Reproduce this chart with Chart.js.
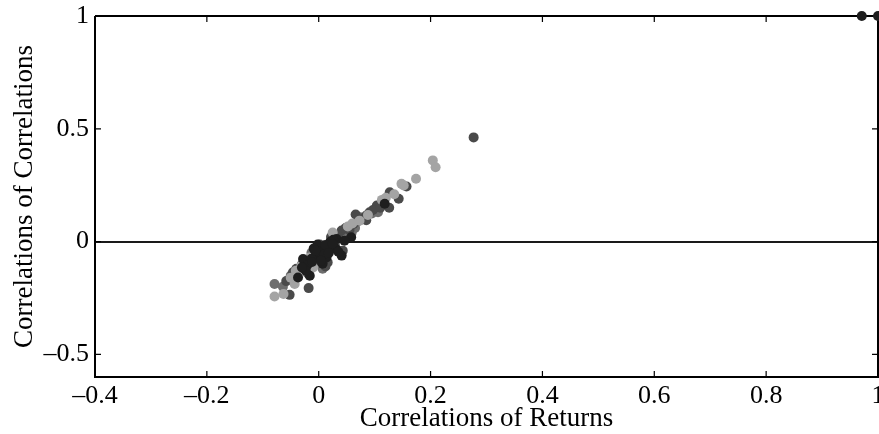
<!DOCTYPE html>
<html>
<head>
<meta charset="utf-8">
<style>
  html, body { margin: 0; padding: 0; background: #fff; overflow: hidden; }
  #wrap { width: 879px; height: 434px; position: relative; }
</style>
<script src="https://cdn.jsdelivr.net/npm/chart.js@4.4.1/dist/chart.umd.min.js"></script>
</head>
<body>
<div id="wrap"><canvas id="c"></canvas></div>
<script>
// Scatter of correlation-of-returns vs correlation-of-correlations, four gray groups
const xTicks = [-0.4, -0.2, 0, 0.2, 0.4, 0.6, 0.8, 1];
const yTicks = [-0.5, 0, 0.5, 1];

const lightX = [0.204, 0.209, 0.174, 0.148, 0.152, 0.120, 0.073, 0.052, -0.016, -0.031, -0.043, -0.079, -0.063, -0.025, -0.002, 0.020, -0.041, 0.025, 0.088, 0.113, -0.010, -0.050, 0.060, 0.135];
const lightY = [0.360, 0.330, 0.279, 0.256, 0.249, 0.194, 0.093, 0.067, -0.070, -0.107, -0.188, -0.243, -0.232, -0.093, -0.076, -0.031, -0.129, 0.040, 0.118, 0.185, -0.115, -0.160, 0.080, 0.210];

const midX = [-0.079, -0.064, 0.106, 0.074, 0.046, -0.034, -0.013, 0.029, 0.007, 0.059, -0.050, 0.036, 0.065, -0.020, 0.095, -0.025, 0.050];
const midY = [-0.188, -0.200, 0.130, 0.108, 0.036, -0.120, -0.049, -0.013, -0.120, 0.040, -0.150, -0.040, 0.060, -0.140, 0.125, -0.100, 0.020];

const darkX = [0.277, 0.157, 0.127, 0.143, 0.126, 0.104, 0.091, 0.085, 0.079, 0.055, 0.041, 0.034, 0.043, -0.018, -0.052, -0.046, -0.007, 0.016, 0.066, 0.002, 0.097, 0.062, -0.030, 0.070, 0.110, 0.048, -0.058, 0.022, -0.040, 0.030, 0.085, 0.012];
const darkY = [0.462, 0.244, 0.219, 0.190, 0.150, 0.160, 0.130, 0.116, 0.101, 0.052, 0.049, 0.027, -0.040, -0.206, -0.236, -0.136, -0.092, -0.092, 0.120, -0.013, 0.140, 0.078, -0.100, 0.090, 0.150, 0.060, -0.175, 0.020, -0.120, 0.005, 0.095, -0.110];

const blackX = [0.118, 0.058, 0.032, 0.026, 0.005, 0.009, 0.014, -0.002, -0.009, -0.005, 0.002, 0.041, 0.007, -0.028, -0.037, -0.016, -0.020, 0.016, 0.021, -0.013, -0.023, 0.046, 0.000, 0.010, -0.006, 0.012, 0.030, 0.004, 0.018, -0.012, 0.025, -0.030, 0.035, 0.971, 1.000];
const blackY = [0.168, 0.019, 0.012, 0.008, -0.025, -0.040, -0.070, -0.013, -0.031, -0.058, -0.076, -0.062, -0.098, -0.077, -0.159, -0.151, -0.102, -0.022, 0.000, -0.076, -0.129, 0.004, -0.045, -0.055, -0.040, -0.015, -0.030, -0.085, -0.050, -0.090, -0.010, -0.115, -0.045, 1.000, 1.000];

function pts(xs, ys) { return xs.map((x, i) => ({ x: x, y: ys[i] })); }

const FAMILY = '"Liberation Serif", "DejaVu Serif", serif';
const TICK_FONT = { family: FAMILY, size: 26 };
const TITLE_FONT = { family: FAMILY, size: 27 };

function fmt(v) {
  const n = Math.round(v * 10) / 10;
  const s = Math.abs(n).toString();
  return n < 0 ? '\u2013' + s : s;
}

function noPad(s) { s.paddingLeft = 0; s.paddingRight = 0; s.paddingTop = 0; s.paddingBottom = 0; }

// Draws the full frame with inward tick marks
const framePlugin = {
  id: 'frame',
  beforeDatasetsDraw(chart) {
    const { ctx, chartArea: a, scales } = chart;
    const tl = 6;
    ctx.save();
    ctx.strokeStyle = '#000';
    ctx.lineWidth = 2;
    ctx.beginPath();
    ctx.moveTo(a.left, a.top); ctx.lineTo(a.right + 1, a.top);
    ctx.moveTo(a.left, a.top); ctx.lineTo(a.left, a.bottom);
    ctx.moveTo(a.left - 1, a.bottom); ctx.lineTo(a.right + 1, a.bottom);
    ctx.moveTo(a.right, a.top); ctx.lineTo(a.right, a.bottom);
    ctx.stroke();
    ctx.lineWidth = 1.2;
    ctx.beginPath();
    xTicks.forEach(v => {
      const px = scales.x.getPixelForValue(v);
      ctx.moveTo(px, a.bottom); ctx.lineTo(px, a.bottom - tl);
      ctx.moveTo(px, a.top); ctx.lineTo(px, a.top + tl);
    });
    yTicks.forEach(v => {
      const py = scales.y.getPixelForValue(v);
      ctx.moveTo(a.left, py); ctx.lineTo(a.left + tl, py);
      ctx.moveTo(a.right, py); ctx.lineTo(a.right - tl, py);
    });
    ctx.stroke();
    ctx.restore();
  }
};

function ds(xs, ys, color) {
  return {
    data: pts(xs, ys),
    backgroundColor: color,
    borderWidth: 0,
    pointRadius: 5,
    pointHoverRadius: 5,
    clip: false
  };
}

new Chart(document.getElementById('c'), {
  type: 'scatter',
  data: {
    datasets: [
      ds(blackX, blackY, '#1e1e1e'),
      ds(lightX, lightY, '#a4a4a4'),
      ds(darkX, darkY, '#4a4a4a'),
      ds(midX, midY, '#6e6e6e')
    ]
  },
  options: {
    responsive: true,
    maintainAspectRatio: false,
    animation: false,
    layout: { autoPadding: false, padding: { left: 0, right: 1, top: 16, bottom: 0 } },
    plugins: { legend: { display: false }, tooltip: { enabled: false } },
    scales: {
      x: {
        type: 'linear',
        min: -0.4, max: 1,
        afterFit(s) { s.height = 57; noPad(s); },
        afterBuildTicks(s) { s.ticks = xTicks.map(v => ({ value: v })); },
        ticks: { font: TICK_FONT, color: '#000', padding: 4, maxRotation: 0, autoSkip: false, callback: v => fmt(v) },
        grid: { display: false, drawTicks: false },
        border: { display: false },
        title: { display: true, text: 'Correlations of Returns', font: TITLE_FONT, color: '#000', padding: { top: 0, bottom: -1 } }
      },
      y: {
        type: 'linear',
        min: -0.6, max: 1,
        afterFit(s) { s.width = 95; noPad(s); },
        afterBuildTicks(s) { s.ticks = yTicks.map(v => ({ value: v })); },
        ticks: { font: TICK_FONT, color: '#000', padding: 6, callback: v => fmt(v) },
        grid: {
          drawTicks: false,
          lineWidth: 2,
          color: c => (c.tick && c.tick.value === 0 ? '#1a1a1a' : 'rgba(0,0,0,0)')
        },
        border: { display: false },
        title: { display: true, text: 'Correlations of Correlations', font: TITLE_FONT, color: '#000', padding: { top: 9, bottom: 0 } }
      }
    }
  },
  plugins: [framePlugin]
});
</script>
</body>
</html>
